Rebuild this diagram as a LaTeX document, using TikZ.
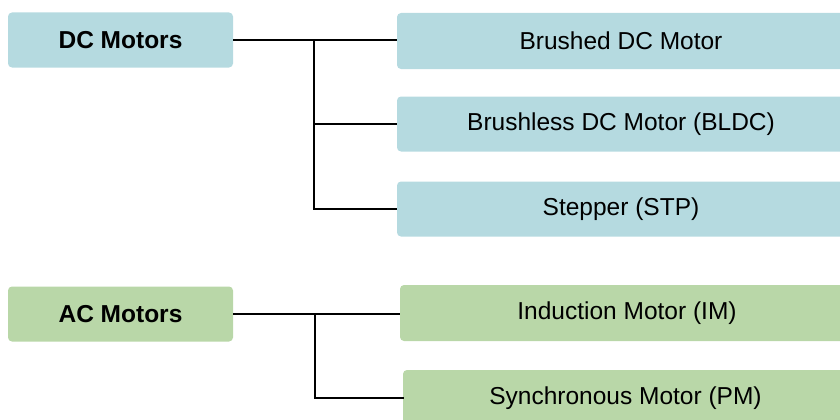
\documentclass[tikz,border=0pt]{standalone}
\usepackage{fontspec}
\setmainfont{Liberation Sans}
\definecolor{dcblue}{RGB}{181,218,224}
\definecolor{acgreen}{RGB}{185,215,168}
\begin{document}
\begin{tikzpicture}[x=1pt,y=-1pt,
  box/.style={rounded corners=4pt, inner sep=0pt, align=center, font=\fontsize{24.5}{28}\selectfont, text=black},
  mainbox/.style={box, minimum width=225pt, minimum height=55pt, font=\fontsize{24.5}{28}\selectfont\bfseries},
  subbox/.style={box, minimum height=56pt},
  dcfill/.style={fill=dcblue},
  acfill/.style={fill=acgreen},
  dcline/.style={draw=black, line width=1.7pt},
  acline/.style={draw=black, line width=2.4pt}]
\useasboundingbox (0,0) rectangle (840,420);
\clip (0,0) rectangle (840,420);
% DC group
\node[mainbox, dcfill] (dc) at (120.5,40) {DC Motors};
\node[subbox, dcfill, minimum width=448pt] (brushed) at (621,41) {Brushed DC Motor};
\node[subbox, dcfill, minimum width=448pt, minimum height=55pt] (bldc) at (621,124) {Brushless DC Motor (BLDC)};
\node[subbox, dcfill, minimum width=448pt, minimum height=55pt] (stepper) at (621,209) {Stepper (STP)};
\coordinate (jdc) at (314,40);
\draw[dcline] (dc.east) -- (brushed.west |- dc.east);
\draw[dcline] (jdc) |- (bldc.west);
\draw[dcline] (jdc) |- (stepper.west);
% AC group
\node[mainbox, acfill] (ac) at (120.5,314) {AC Motors};
\node[subbox, acfill, minimum width=454pt] (induction) at (627,313) {Induction Motor (IM)};
\node[subbox, acfill, minimum width=445pt] (sync) at (625.5,398) {Synchronous Motor (PM)};
\coordinate (jac) at (315,314);
\draw[dcline, line width=2pt] (ac.east) -- (induction.west |- ac.east);
\draw[acline, line cap=rect] (jac) |- (sync.west);
\end{tikzpicture}
\end{document}
